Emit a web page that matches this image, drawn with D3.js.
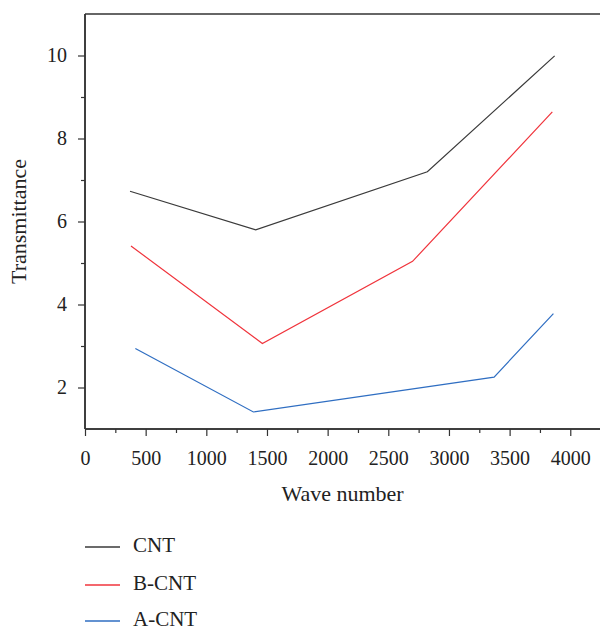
<!DOCTYPE html>
<html>
<head>
<meta charset="utf-8">
<script src="https://cdn.jsdelivr.net/npm/d3@7"></script>
<style>
  html, body { margin: 0; padding: 0; background: #fff; }
  svg { display: block; font-family: "Liberation Serif", "DejaVu Serif", serif; }
</style>
</head>
<body>
<svg id="chart" width="600" height="632"></svg>
<script>
const seriesNames = ["CNT", "B-CNT", "A-CNT"];
const seriesColors = ["#3a3a3a", "#f0343c", "#2f6ec2"];
const cntX = [371, 1407, 2822, 3871];
const cntY = [6.73, 5.80, 7.20, 9.99];
const bcntX = [379, 1462, 2700, 3852];
const bcntY = [5.41, 3.06, 5.04, 8.64];
const acntX = [415, 1388, 3372, 3861];
const acntY = [2.94, 1.41, 2.25, 3.78];
const xTicks = [0, 500, 1000, 1500, 2000, 2500, 3000, 3500, 4000];
const yTicks = [2, 4, 6, 8, 10];
const xLabel = "Wave number";
const yLabel = "Transmittance";

const seriesX = [cntX, bcntX, acntX];
const seriesY = [cntY, bcntY, acntY];

const svg = d3.select("#chart");
const mLeft = 85, mRight = 600, mTop = 14, mBottom = 429;

const x = d3.scaleLinear().domain([0, 4245]).range([mLeft, mRight]);
const y = d3.scaleLinear().domain([1, 11]).range([mBottom, mTop]);

const axisColor = "#333";
const textColor = "#222";

// top border
svg.append("line").attr("x1", mLeft).attr("x2", mRight).attr("y1", mTop).attr("y2", mTop)
  .attr("stroke", axisColor).attr("stroke-width", 1.3);

// minor ticks
const xMinor = d3.range(250, 4245, 500);
const yMinor = d3.range(3, 11, 2);

const gx = svg.append("g").attr("transform", `translate(0,${mBottom})`);
gx.append("g").call(d3.axisBottom(x).tickValues(xMinor).tickSize(4).tickFormat(""));
gx.append("g").call(d3.axisBottom(x).tickValues(xTicks).tickSize(7).tickPadding(15).tickFormat(d3.format("d")));
gx.selectAll(".domain").attr("stroke", axisColor).attr("stroke-width", 1.5).attr("d", `M${mLeft},0H${mRight}`);
gx.selectAll(".tick line").attr("stroke", axisColor).attr("stroke-width", 1.2);
gx.selectAll(".tick text").attr("font-size", 20).attr("fill", textColor)
  .attr("font-family", "Liberation Serif, serif");

const gy = svg.append("g").attr("transform", `translate(${mLeft},0)`);
gy.append("g").call(d3.axisLeft(y).tickValues(yMinor).tickSize(4).tickFormat(""));
gy.append("g").call(d3.axisLeft(y).tickValues(yTicks).tickSize(7).tickPadding(11).tickFormat(d3.format("d")));
gy.selectAll(".domain").attr("stroke", axisColor).attr("stroke-width", 1.5).attr("d", `M0,${mTop}V${mBottom}`);
gy.selectAll(".tick line").attr("stroke", axisColor).attr("stroke-width", 1.2);
gy.selectAll(".tick text").attr("font-size", 20).attr("fill", textColor)
  .attr("font-family", "Liberation Serif, serif");

// lines
const line = d3.line().x(d => x(d[0])).y(d => y(d[1]));
seriesNames.forEach((name, i) => {
  const pts = seriesX[i].map((v, j) => [v, seriesY[i][j]]);
  svg.append("path").datum(pts)
    .attr("d", line)
    .attr("fill", "none")
    .attr("stroke", seriesColors[i])
    .attr("stroke-width", 1.2);
});

// axis labels
svg.append("text").attr("x", (mLeft + mRight) / 2).attr("y", 501)
  .attr("text-anchor", "middle").attr("font-size", 22).attr("fill", textColor)
  .text(xLabel);
svg.append("text")
  .attr("transform", `translate(26,${(mTop + mBottom) / 2}) rotate(-90)`)
  .attr("text-anchor", "middle").attr("font-size", 22).attr("fill", textColor)
  .text(yLabel);

// legend
const legY = [547, 585, 621];
seriesNames.forEach((name, i) => {
  svg.append("line").attr("x1", 85).attr("x2", 120).attr("y1", legY[i]).attr("y2", legY[i])
    .attr("stroke", seriesColors[i]).attr("stroke-width", 1.3);
  svg.append("text").attr("x", 133).attr("y", legY[i] + 5)
    .attr("font-size", 21).attr("fill", textColor).text(name);
});
</script>
</body>
</html>
